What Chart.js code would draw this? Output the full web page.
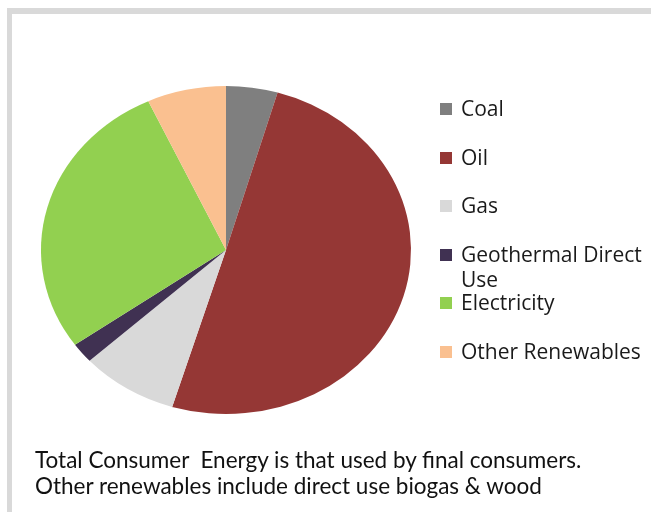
<!DOCTYPE html>
<html>
<head>
<meta charset="utf-8">
<script src="https://cdn.jsdelivr.net/npm/chart.js@4.4.0/dist/chart.umd.min.js"></script>
<style>
    html, body { margin: 0; padding: 0; background: #fff; }
    body { width: 651px; height: 512px; position: relative; overflow: hidden; }
    #frame {
        position: absolute; left: 7px; top: 8px; width: 700px; height: 560px;
        border-left: 5px solid #d9d9d9; border-top: 6px solid #d9d9d9;
    }
    #energyChart { position: absolute; left: 0; top: 0; }
    #legend { position: absolute; left: 440px; top: 0; font-family: "Open Sans", sans-serif; font-size: 21px; color: #1a1a1a; }
    .item { position: absolute; left: 0; width: 232px; line-height: 25px; }
    .item .box { position: absolute; left: 0; top: 7px; width: 12px; height: 12px; }
    .item .txt { display: block; margin-left: 21px; }
    #note {
        position: absolute; left: 35px; top: 447px;
        font-family: Lato, sans-serif; font-size: 22.5px; line-height: 26px; color: #111;
        white-space: nowrap;
    }
</style>
</head>
<body>
<div id="frame"></div>
<canvas id="energyChart" width="651" height="512"></canvas>
<div id="legend"></div>
<div id="note">Total Consumer&nbsp; Energy is that used by final consumers.<br>Other renewables include direct use biogas &amp; wood</div>

<script>
// Data
const categories = ['Coal', 'Oil', 'Gas', 'Geothermal Direct Use', 'Electricity', 'Other Renewables'];
const shares = [4.5, 50.2, 8.5, 2.0, 27.9, 6.9];
const sliceColors = ['#7f7f7f', '#953735', '#d9d9d9', '#403152', '#92d050', '#fac090'];

// the original pie is drawn a bit wider than tall
const pieStretch = 1.128;

const stretchPie = {
    id: 'stretchPie',
    beforeDatasetsDraw(chart) {
        const { ctx, chartArea } = chart;
        const cx = (chartArea.left + chartArea.right) / 2;
        ctx.save();
        ctx.translate(cx, 0);
        ctx.scale(pieStretch, 1);
        ctx.translate(-cx, 0);
    },
    afterDatasetsDraw(chart) {
        chart.ctx.restore();
    }
};

const createEnergyChart = () => {
    const ctx = document.getElementById('energyChart')?.getContext('2d');
    if (!ctx) return;
    new Chart(ctx, {
        type: 'pie',
        data: {
            labels: categories,
            datasets: [{
                data: shares,
                backgroundColor: sliceColors,
                borderWidth: 0,
                clip: false
            }]
        },
        options: {
            responsive: false,
            animation: false,
            layout: { padding: { top: 86, bottom: 98, left: 62, right: 261 } },
            plugins: {
                legend: { display: false },
                tooltip: { enabled: false }
            }
        },
        plugins: [stretchPie]
    });
};

// Legend built from the same arrays
const createLegend = () => {
    const legend = document.getElementById('legend');
    categories.forEach((name, i) => {
        const item = document.createElement('div');
        item.className = 'item';
        item.style.top = (96 + i * 48.6) + 'px';
        const box = document.createElement('span');
        box.className = 'box';
        box.style.background = sliceColors[i];
        const txt = document.createElement('span');
        txt.className = 'txt';
        txt.textContent = name;
        item.appendChild(box);
        item.appendChild(txt);
        legend.appendChild(item);
    });
};

document.addEventListener('DOMContentLoaded', function() {
    createEnergyChart();
    createLegend();
});
</script>
</body>
</html>
